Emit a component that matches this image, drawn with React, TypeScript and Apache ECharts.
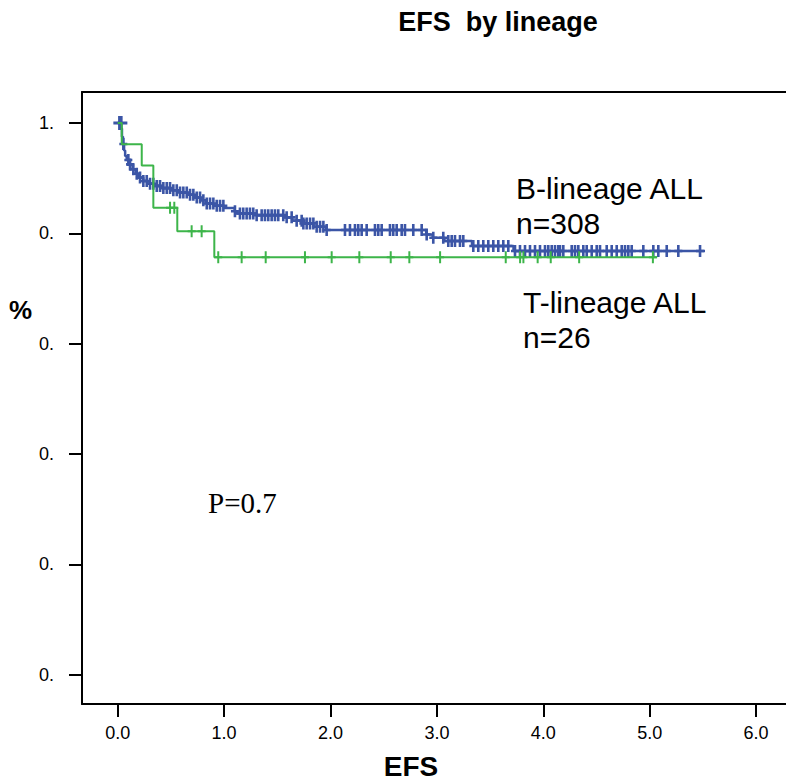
import React, { useEffect, useRef } from "react";
import * as echarts from "echarts";

// ---- Data ----
// B-lineage ALL (n=308): event times (years) and survival after each step
const bTimes = [0, 0.03, 0.04, 0.05, 0.06, 0.07, 0.085, 0.11, 0.14, 0.17, 0.2, 0.24, 0.28, 0.34, 0.42, 0.5, 0.58, 0.66, 0.72, 0.78, 0.83, 0.9, 1.0, 1.1, 1.12, 1.3, 1.56, 1.64, 1.74, 1.84, 1.96, 2.9, 2.96, 3.07, 3.33, 3.72, 5.52];
const bSurv = [1.0, 0.99, 0.975, 0.962, 0.95, 0.94, 0.933, 0.925, 0.916, 0.908, 0.901, 0.895, 0.89, 0.886, 0.882, 0.878, 0.874, 0.87, 0.865, 0.86, 0.854, 0.85, 0.846, 0.84, 0.836, 0.833, 0.829, 0.823, 0.818, 0.812, 0.806, 0.798, 0.792, 0.786, 0.777, 0.768, 0.768];
const bStartCensor = [0.025];
const bCensor = [
  0.053, 0.1, 0.116, 0.147, 0.179, 0.21, 0.241, 0.273, 0.304, 0.335, 0.367, 0.398, 0.429, 0.461,
  0.492, 0.523, 0.555, 0.586, 0.617, 0.649, 0.68, 0.711, 0.743, 0.774, 0.805, 0.837, 0.868, 0.899,
  0.931, 0.962, 0.993, 1.102, 1.149, 1.18, 1.212, 1.243, 1.274, 1.306, 1.353, 1.384, 1.415, 1.447,
  1.478, 1.509, 1.556, 1.588, 1.635, 1.682, 1.729, 1.745, 1.776, 1.808, 1.839, 1.87, 1.902, 1.933,
  1.964, 2.136, 2.183, 2.23, 2.261, 2.293, 2.34, 2.418, 2.449, 2.481, 2.559, 2.59, 2.622, 2.669,
  2.7, 2.778, 2.857, 2.904, 2.966, 3.06, 3.107, 3.139, 3.17, 3.217, 3.248, 3.342, 3.389, 3.436,
  3.483, 3.53, 3.577, 3.624, 3.671, 3.734, 3.781, 3.828, 3.875, 3.922, 3.969, 4.016, 4.047, 4.079,
  4.11, 4.141, 4.157, 4.188, 4.267, 4.298, 4.329, 4.376, 4.408, 4.455, 4.502, 4.533, 4.596, 4.643,
  4.69, 4.737, 4.768, 4.799, 4.831, 4.94, 5.034, 5.081, 5.16, 5.269, 5.473,
];
// T-lineage ALL (n=26)
const tTimes = [0, 0.038, 0.226, 0.335, 0.56, 0.908, 5.07];
const tSurv = [1.0, 0.9615, 0.9231, 0.8462, 0.8038, 0.7565, 0.7565];
const tCensor = [
  0.492, 0.532, 0.695, 0.789, 0.945, 1.165, 1.391, 1.76, 2.011, 2.271, 2.566, 2.741, 3.03, 3.647,
  3.782, 3.813, 3.947, 4.07, 4.337, 5.03,
];
const xTicks = [0, 1, 2, 3, 4, 5, 6];
const yTicks = [0, 0.2, 0.4, 0.6, 0.8, 1.0];

const BLUE = "#3B55A6";
const GREEN = "#3DB54A";
const SANS = "'Liberation Sans', Arial, Helvetica, sans-serif";

function survAt(times: number[], surv: number[], t: number): number {
  let v = 1;
  for (let i = 0; i < times.length; i++) {
    if (times[i] <= t) v = surv[i];
  }
  return v;
}

const blueCross = "path://M-1.3,-6h2.6v12h-2.6z M-4,-1.3h8v2.6h-8z";
const greenCross = "path://M-1,-6h2v12h-2z M-4,-1h8v2h-8z";

export default function App() {
  const ref = useRef<HTMLDivElement>(null);
  useEffect(() => {
    if (!ref.current) return;
    const chart = echarts.init(ref.current, undefined, { renderer: "svg" });
    const xMin = -0.3355;
    const xMax = 6.281;
    const option: any = {
      animation: false,
      backgroundColor: "#ffffff",
      grid: { left: 82, top: 92, right: 0, bottom: 78 },
      xAxis: [
        {
          type: "value",
          min: xMin,
          max: xMax,
          axisLine: { show: true, onZero: false, lineStyle: { color: "#000", width: 2 } },
          axisTick: { show: true, customValues: xTicks, length: 13, inside: false, lineStyle: { color: "#000", width: 2 } },
          axisLabel: {
            show: true,
            customValues: xTicks,
            formatter: (v: number) => v.toFixed(1),
            fontSize: 18,
            fontFamily: SANS,
            color: "#000",
            margin: 20,
          },
          splitLine: { show: false },
        },
        {
          type: "value",
          position: "top",
          min: xMin,
          max: xMax,
          axisLine: { show: true, onZero: false, lineStyle: { color: "#000", width: 2 } },
          axisTick: { show: false },
          axisLabel: { show: false },
          splitLine: { show: false },
        },
      ],
      yAxis: {
        type: "value",
        min: -0.0531,
        max: 1.0562,
        axisLine: { show: true, onZero: false, lineStyle: { color: "#000", width: 2 } },
        axisTick: { show: true, customValues: yTicks, length: 13, inside: false, lineStyle: { color: "#000", width: 2 } },
        axisLabel: {
          show: true,
          customValues: yTicks,
          formatter: (v: number) => (v >= 0.999 ? "1." : "0."),
          fontSize: 18,
          fontFamily: SANS,
          color: "#000",
          margin: 28,
        },
        splitLine: { show: false },
      },
      series: [
        {
          type: "line",
          step: "end",
          showSymbol: false,
          data: bTimes.map((t, i) => [t, bSurv[i]]),
          lineStyle: { color: BLUE, width: 2.5 },
          z: 2,
        },
        {
          type: "scatter",
          symbol: blueCross,
          symbolSize: [8, 12],
          data: bCensor.map((t) => [t, survAt(bTimes, bSurv, t)]),
          itemStyle: { color: BLUE, opacity: 1 },
          z: 3,
        },
        {
          type: "scatter",
          symbol: blueCross,
          symbolSize: [14, 14],
          data: bStartCensor.map((t) => [t, survAt(bTimes, bSurv, t)]),
          itemStyle: { color: BLUE, opacity: 1 },
          z: 3,
        },
        {
          type: "line",
          step: "end",
          showSymbol: false,
          data: tTimes.map((t, i) => [t, tSurv[i]]),
          lineStyle: { color: GREEN, width: 2 },
          z: 4,
        },
        {
          type: "scatter",
          symbol: greenCross,
          symbolSize: [8, 12],
          data: tCensor.map((t) => [t, survAt(tTimes, tSurv, t)]),
          itemStyle: { color: GREEN, opacity: 1 },
          z: 5,
        },
      ],
      graphic: [
        { type: "text", x: 498, y: 22, style: { text: "EFS  by lineage", fontSize: 27, fontWeight: "bold", fontFamily: SANS, fill: "#000", align: "center", verticalAlign: "middle" } },
        { type: "text", x: 516, y: 188, style: { text: "B-lineage ALL", fontSize: 30, fontFamily: SANS, fill: "#000", align: "left", verticalAlign: "middle" } },
        { type: "text", x: 516, y: 223, style: { text: "n=308", fontSize: 30, fontFamily: SANS, fill: "#000", align: "left", verticalAlign: "middle" } },
        { type: "text", x: 523, y: 302, style: { text: "T-lineage ALL", fontSize: 30, fontFamily: SANS, fill: "#000", align: "left", verticalAlign: "middle" } },
        { type: "text", x: 523, y: 337, style: { text: "n=26", fontSize: 30, fontFamily: SANS, fill: "#000", align: "left", verticalAlign: "middle" } },
        { type: "text", x: 208, y: 503, style: { text: "P=0.7", fontSize: 29, fontFamily: "'Liberation Serif', 'Times New Roman', serif", fill: "#000", align: "left", verticalAlign: "middle" } },
        { type: "text", x: 9, y: 310, style: { text: "%", fontSize: 26, fontWeight: "bold", fontFamily: SANS, fill: "#000", align: "left", verticalAlign: "middle" } },
        { type: "text", x: 411, y: 766, style: { text: "EFS", fontSize: 28, fontWeight: "bold", fontFamily: SANS, fill: "#000", align: "center", verticalAlign: "middle" } },
      ],
    };
    chart.setOption(option);
    return () => chart.dispose();
  }, []);
  return <div ref={ref} style={{ width: 786, height: 782, position: "absolute", left: 0, top: 0 }} />;
}
